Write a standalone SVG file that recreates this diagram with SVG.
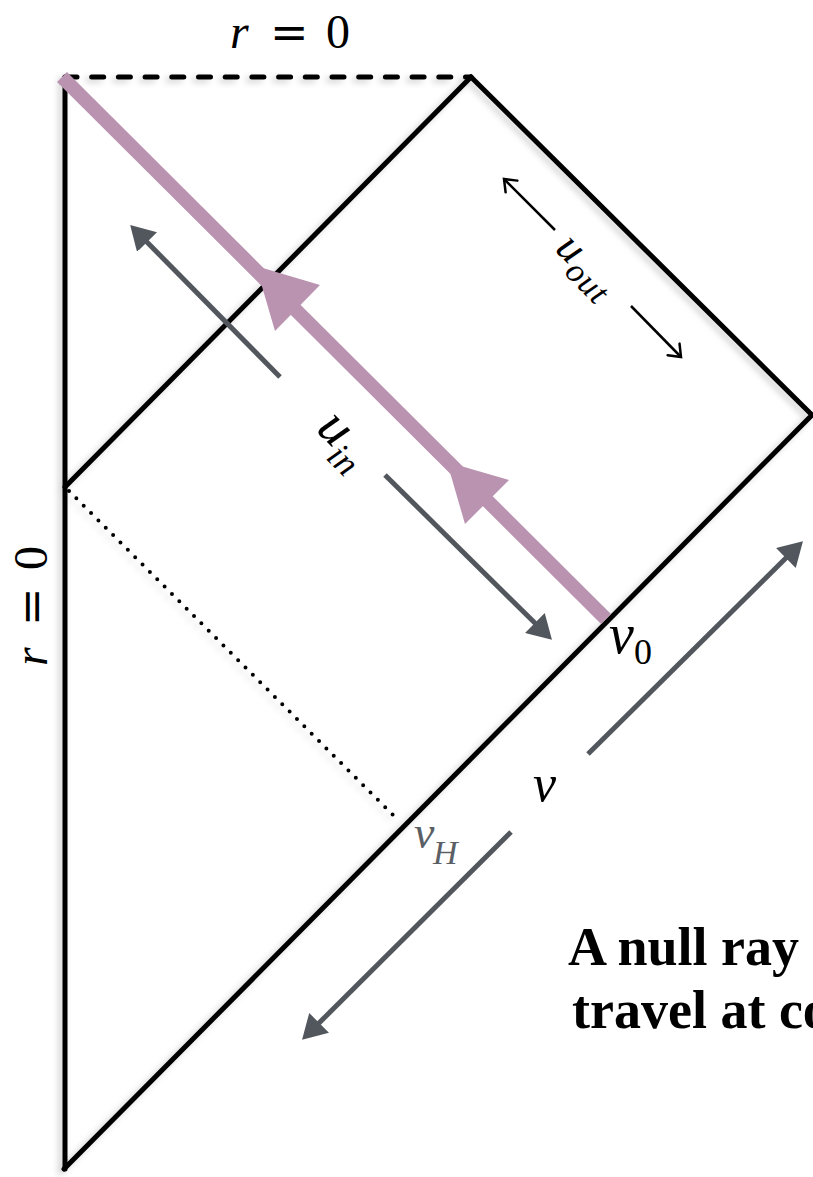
<svg xmlns="http://www.w3.org/2000/svg" width="813" height="1177" viewBox="0 0 813 1177">
<defs>
<style>
.frame{stroke:#000;stroke-width:5;fill:none;stroke-linecap:round;stroke-linejoin:miter}
.dash{stroke:#000;stroke-width:5;fill:none;stroke-linecap:round;stroke-dasharray:12 14.7}
.dot{stroke:#000;stroke-width:4;fill:none;stroke-linecap:round;stroke-dasharray:0 10.4}
.gray{stroke:#52575e;stroke-width:5;fill:none}
.thin{stroke:#000;stroke-width:2.5;fill:none}
.ray{stroke:#b993b0;stroke-width:14;fill:none}
.rayhead{fill:#b993b0}
.it{font-family:"Liberation Serif",serif;font-style:italic;fill:#000}
.rm{font-family:"Liberation Serif",serif;font-style:normal;fill:#000}
.eq{font-family:"DejaVu Serif",serif;font-style:normal;fill:#000}
.cap{font-family:"Liberation Serif",serif;font-weight:bold;font-size:54px;fill:#000}
</style>
<filter id="sh" x="-10%" y="-10%" width="120%" height="120%">
<feDropShadow dx="-4" dy="3" stdDeviation="3" flood-color="#000" flood-opacity="0.18"/>
</filter>
<marker id="gh" markerUnits="userSpaceOnUse" viewBox="0 0 24 28" markerWidth="24" markerHeight="28" refX="10" refY="14" orient="auto">
<path d="M0,0 L24,14 L0,28 Z" fill="#52575e"/>
</marker>
<marker id="oh" markerUnits="userSpaceOnUse" viewBox="-2 -2 18 22" markerWidth="18" markerHeight="22" refX="13" refY="8" orient="auto">
<path d="M2.4,-0.3 L13,8 L2.4,16.3" fill="none" stroke="#000" stroke-width="2.5" stroke-linecap="round" stroke-linejoin="miter"/>
</marker>
</defs>
<rect width="813" height="1177" fill="#fff"/>

<g id="frame" filter="url(#sh)">
<path class="frame" d="M65,77 L65,1169"/>
<path class="dash" d="M65,77 L471,77"/>
<path class="frame" d="M471,77 L812,415 L64,1169"/>
<path class="frame" d="M65,487 L471,77"/>
<path class="dot" d="M69,491 L399,821"/>
</g>

<g id="connectors">
<path class="ray" d="M62,77 L606,619"/>
<polygon class="rayhead" points="256,266 320,285 275,331"/>
<polygon class="rayhead" points="447,462 509,480 465,524"/>
<path class="gray" d="M280,377 L140,235" marker-end="url(#gh)"/>
<path class="gray" d="M385,475 L542,630" marker-end="url(#gh)"/>
<path class="gray" d="M588,754 L793,551" marker-end="url(#gh)"/>
<path class="gray" d="M511,832 L312,1030" marker-end="url(#gh)"/>
<path class="thin" d="M555,230 L504,179" marker-end="url(#oh)"/>
<path class="thin" d="M631,306 L681,357" marker-end="url(#oh)"/>
</g>

<g id="labels">
<g id="label-r0-top">
<text class="it" x="230" y="48" font-size="48">r</text>
<text class="eq" x="270" y="48" font-size="46">=</text>
<text class="rm" x="326" y="48" font-size="48">0</text>
</g>
<g id="label-r0-left" transform="translate(47,666) rotate(-90)">
<text class="it" x="0" y="0" font-size="48">r</text>
<text class="eq" x="40" y="0" font-size="46">=</text>
<text class="rm" x="96" y="0" font-size="48">0</text>
</g>
<g id="label-uout" transform="translate(554,250) rotate(45)">
<text class="it" x="0" y="0" font-size="44">u<tspan font-size="34" dx="1" dy="10" letter-spacing="1">out</tspan></text>
</g>
<g id="label-uin" transform="translate(315,430) rotate(45)">
<text class="it" x="0" y="0" font-size="54">u<tspan font-size="36" dx="0" dy="13">in</tspan></text>
</g>
<g id="label-v0">
<text class="it" x="609" y="653" font-size="56">v</text>
<text class="rm" x="634" y="664" font-size="36">0</text>
</g>
<g id="label-v">
<text class="it" x="533" y="801" font-size="52">v</text>
</g>
<g id="label-vH">
<text class="it" x="414" y="848" font-size="46" style="fill:#5a5f66">v</text>
<text class="it" x="433" y="864" font-size="34" style="fill:#5a5f66">H</text>
</g>
<g id="caption">
<text class="cap" x="568" y="965">A null ray</text>
<text class="cap" x="572" y="1028">travel at co</text>
</g>
</g>
</svg>
